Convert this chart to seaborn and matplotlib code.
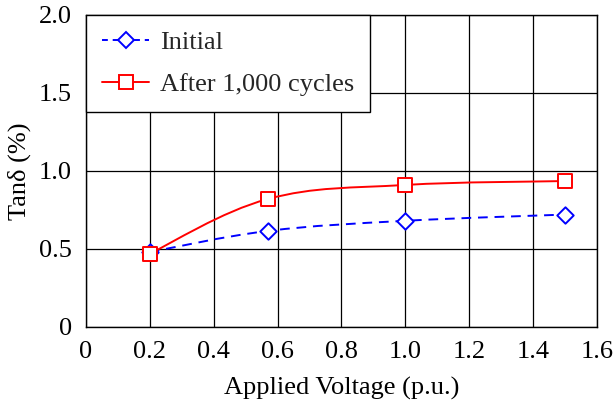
import numpy as np
import pandas as pd
import matplotlib
matplotlib.use("Agg")
import matplotlib.pyplot as plt
from matplotlib.path import Path
from matplotlib.patches import PathPatch
from matplotlib.lines import Line2D
import seaborn as sns

# Measured loss tangent versus applied voltage
voltage = [0.2, 0.57, 1.0, 1.5]
tan_initial = [0.48, 0.615, 0.68, 0.72]
tan_aged = [0.47, 0.82, 0.91, 0.935]
series_names = ["Initial", "After 1,000 cycles"]

x_ticks = [0, 0.2, 0.4, 0.6, 0.8, 1.0, 1.2, 1.4, 1.6]
x_tick_labels = ["0", "0.2", "0.4", "0.6", "0.8", "1.0", "1.2", "1.4", "1.6"]
y_ticks = [0, 0.5, 1.0, 1.5, 2.0]
y_tick_labels = ["0", "0.5", "1.0", "1.5", "2.0"]

sns.set_theme(style="white")
plt.rcParams["font.family"] = ["Liberation Serif", "DejaVu Serif"]

FS = 19

fig = plt.figure(figsize=(6.14, 4.05), dpi=100)
ax = fig.add_axes([0.140, 0.193, 0.832, 0.770])


def smooth_path(xs, ys, tension=0.55):
    """Bezier path through the points, tangents from neighbouring points."""
    pts = np.column_stack([xs, ys]).astype(float)
    n = len(pts)
    verts = [pts[0]]
    codes = [Path.MOVETO]
    k = tension / 3.0
    for i in range(n - 1):
        p_prev = pts[i - 1] if i > 0 else pts[i]
        p0, p1 = pts[i], pts[i + 1]
        p_next = pts[i + 2] if i + 2 < n else pts[i + 1]
        c1 = p0 + k * (p1 - p_prev)
        c2 = p1 - k * (p_next - p0)
        verts += [c1, c2, p1]
        codes += [Path.CURVE4] * 3
    return Path(verts, codes)


blue = "#0000ff"
red = "#ff0000"

ax.add_patch(PathPatch(smooth_path(voltage, tan_initial), fill=False,
                       edgecolor=blue, lw=1.4, ls=(0, (5, 3.5)), zorder=3))
ax.add_patch(PathPatch(smooth_path(voltage, tan_aged), fill=False,
                       edgecolor=red, lw=1.4, zorder=3))

df = pd.DataFrame({
    "voltage": voltage * 2,
    "tan": tan_initial + tan_aged,
    "series": [series_names[0]] * len(voltage) + [series_names[1]] * len(voltage),
})
sns.scatterplot(data=df[df.series == series_names[0]], x="voltage", y="tan",
                marker="D", s=70, facecolor="white", edgecolor=blue,
                linewidth=1.4, ax=ax, zorder=4, legend=False)
sns.scatterplot(data=df[df.series == series_names[1]], x="voltage", y="tan",
                marker="s", s=95, facecolor="white", edgecolor=red,
                linewidth=1.4, ax=ax, zorder=4, legend=False)

ax.set_xlim(0, 1.6)
ax.set_ylim(0, 2.0)
ax.set_xticks(x_ticks)
ax.set_xticklabels(x_tick_labels)
ax.set_yticks(y_ticks)
ax.set_yticklabels(y_tick_labels)
ax.tick_params(axis="both", length=0, labelsize=FS, colors="black")
ax.tick_params(axis="x", pad=10)
ax.tick_params(axis="y", pad=10)
ax.grid(True, color="black", lw=0.9)
ax.set_axisbelow(True)
for sp in ax.spines.values():
    sp.set_visible(True)
    sp.set_color("black")
    sp.set_linewidth(1.0)

ax.set_xlabel("Applied Voltage (p.u.)", fontsize=FS, color="black", labelpad=10)
ax.set_ylabel("Tanδ (%)", fontsize=FS, color="black", labelpad=6)

handles = [
    Line2D([], [], color=blue, lw=1.4, ls=(0, (3, 2.5)), marker="D",
           markersize=8.5, markerfacecolor="white", markeredgecolor=blue,
           markeredgewidth=1.4),
    Line2D([], [], color=red, lw=1.4, marker="s", markersize=9.5,
           markerfacecolor="white", markeredgecolor=red, markeredgewidth=1.4),
]
leg = ax.legend(handles, series_names, loc="upper left", borderaxespad=0,
                fontsize=FS, frameon=True, fancybox=False, framealpha=1,
                edgecolor="black", handlelength=1.8, handletextpad=0.4,
                borderpad=0.6, labelspacing=0.7)
leg.get_frame().set_linewidth(1.0)
leg.set_zorder(5)

fig.savefig("out.png", dpi=100)
